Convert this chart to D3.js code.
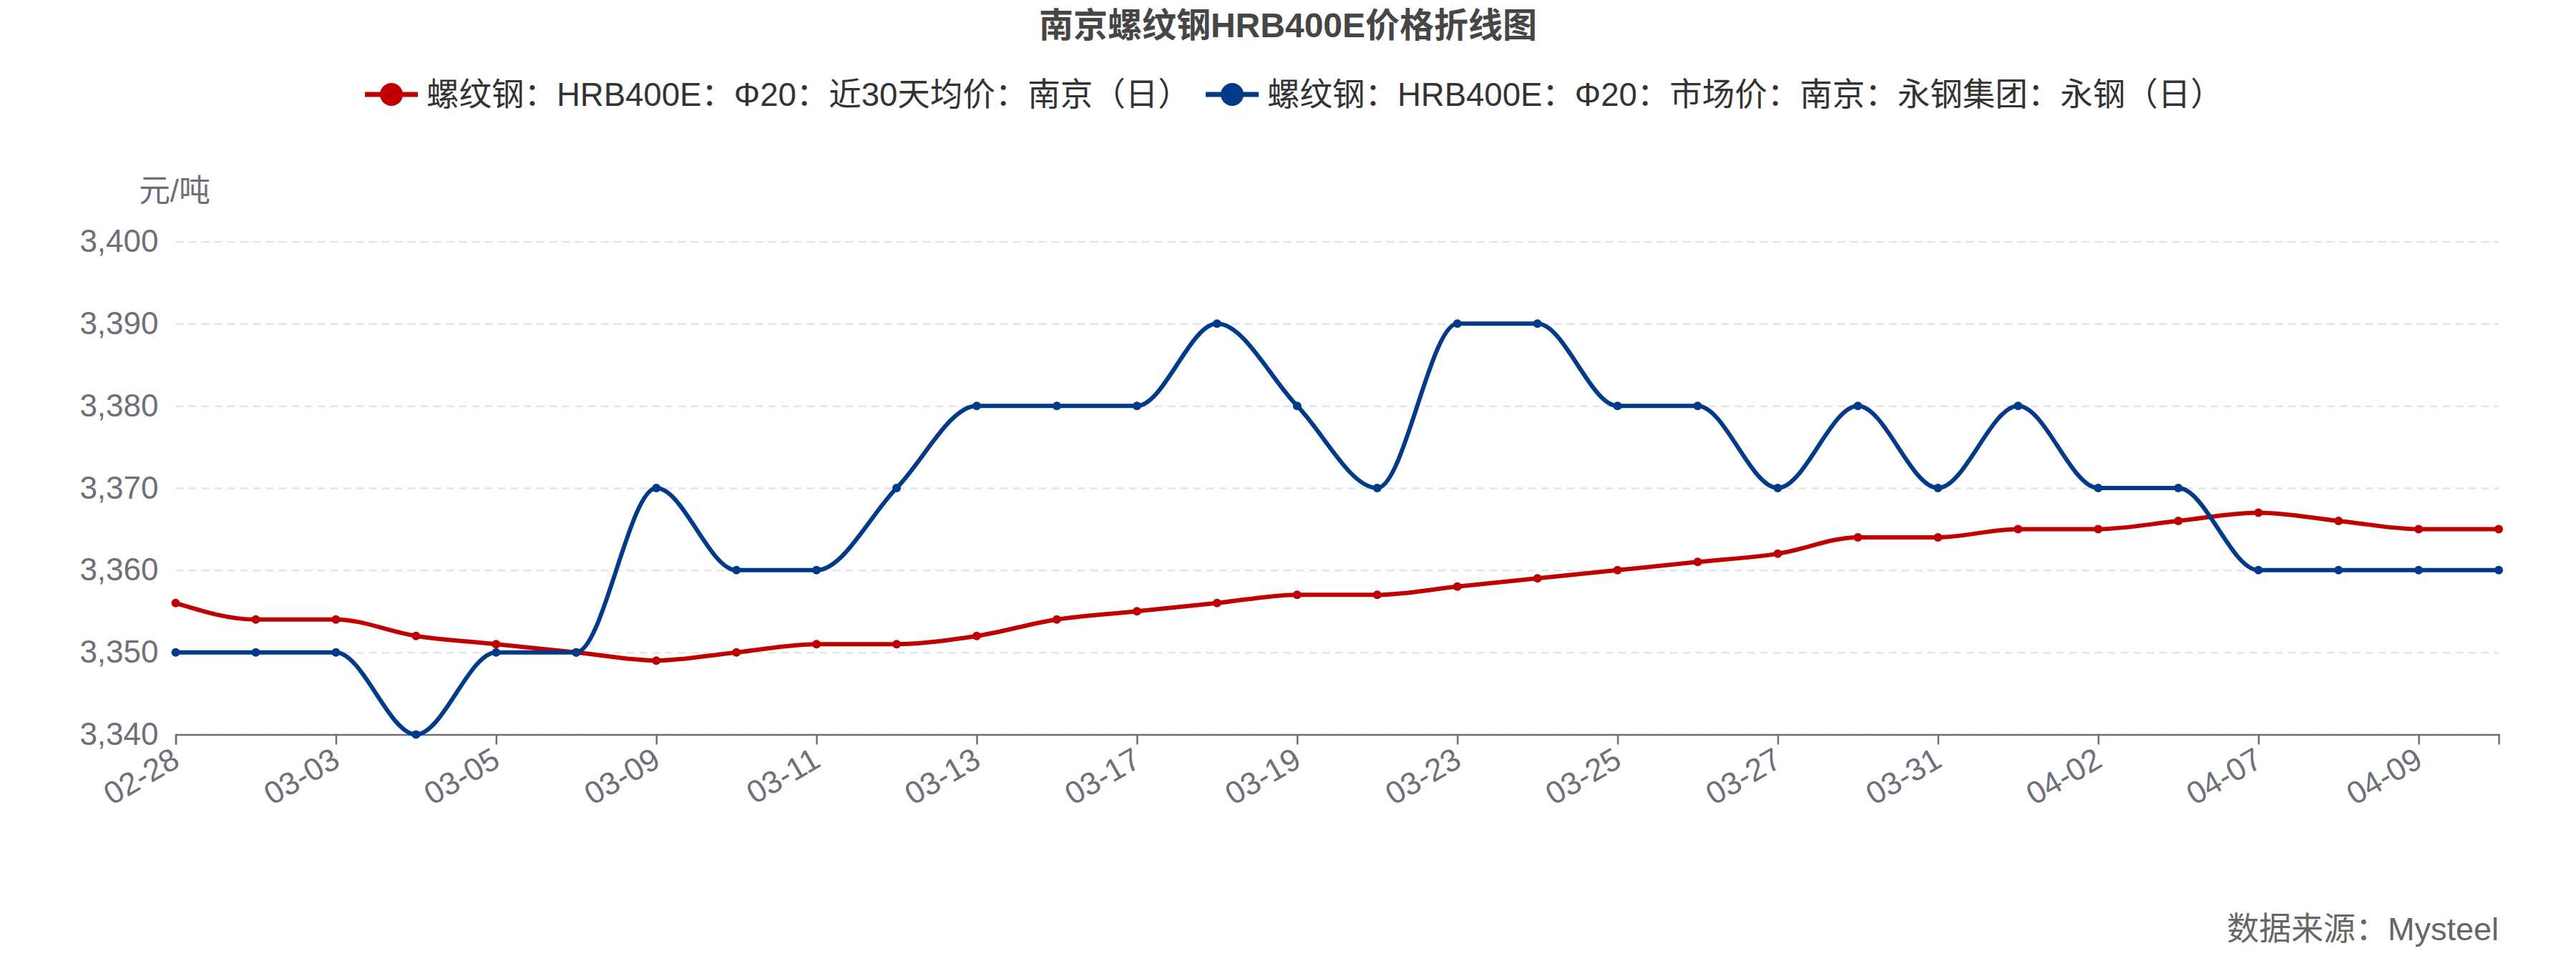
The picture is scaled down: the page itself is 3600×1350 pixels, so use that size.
<head>
  <title>南京螺纹钢HRB400E价格折线图</title>
  <script src="https://d3js.org/d3.v7.min.js"></script>
  <style>
    body { margin: 0; background: #fff; }
    text { font-family: "Liberation Sans", Arial, "Noto Sans CJK SC", sans-serif; }
  </style>
</head>

<body>

<svg id="chart" width="3600" height="1350"></svg>

<script>
    var dates = ["02-28", "03-02", "03-03", "03-04", "03-05", "03-06", "03-09", "03-10", "03-11", "03-12",
        "03-13", "03-16", "03-17", "03-18", "03-19", "03-20", "03-23", "03-24", "03-25", "03-26",
        "03-27", "03-30", "03-31", "04-01", "04-02", "04-03", "04-07", "04-08", "04-09", "04-10"];

    // 近30天均价
    var avg30 = [3356, 3354, 3354, 3352, 3351, 3350, 3349, 3350, 3351, 3351,
        3352, 3354, 3355, 3356, 3357, 3357, 3358, 3359, 3360, 3361,
        3362, 3364, 3364, 3365, 3365, 3366, 3367, 3366, 3365, 3365];

    // 市场价 永钢
    var market = [3350, 3350, 3350, 3340, 3350, 3350, 3370, 3360, 3360, 3370,
        3380, 3380, 3380, 3390, 3380, 3370, 3390, 3390, 3380, 3380,
        3370, 3380, 3370, 3380, 3370, 3370, 3360, 3360, 3360, 3360];

    var seriesNames = ["螺纹钢：HRB400E：Φ20：近30天均价：南京（日）",
        "螺纹钢：HRB400E：Φ20：市场价：南京：永钢集团：永钢（日）"];
    var colors = ["#c00000", "#003a88"];
    var yTicks = [3340, 3350, 3360, 3370, 3380, 3390, 3400];

    var svg = d3.select("#chart"),
        margin = {top: 337.5, right: 108, bottom: 323.5, left: 245.5},
        width = +svg.attr("width"),
        height = +svg.attr("height");

    var x = d3.scalePoint()
        .domain(dates)
        .range([margin.left, width - margin.right]);

    var y = d3.scaleLinear()
        .domain([3340, 3400])
        .range([height - margin.bottom, margin.top]);

    // title
    svg.append("text")
        .attr("x", 1800)
        .attr("y", 52)
        .attr("text-anchor", "middle")
        .attr("font-size", 48)
        .attr("font-weight", "bold")
        .attr("fill", "#464646")
        .text("南京螺纹钢HRB400E价格折线图");

    // y axis + grid
    var yAxis = svg.append("g")
        .attr("class", "y-axis")
        .attr("transform", `translate(${margin.left},0)`)
        .call(d3.axisLeft(y)
            .tickValues(yTicks)
            .tickFormat(d3.format(","))
            .tickSize(-(width - margin.left - margin.right))
            .tickPadding(24));

    yAxis.select(".domain").remove();
    yAxis.selectAll("line")
        .attr("stroke", "#e0e6f1")
        .attr("stroke-width", 2.5)
        .attr("stroke-dasharray", "11,7");
    yAxis.selectAll("text")
        .attr("font-size", 44)
        .attr("fill", "#6e7079");

    svg.append("text")
        .attr("x", 244)
        .attr("y", 282)
        .attr("text-anchor", "middle")
        .attr("font-size", 44)
        .attr("fill", "#6e7079")
        .text("元/吨");

    // x axis
    var xAxis = svg.append("g")
        .attr("class", "x-axis")
        .attr("transform", `translate(0,${height - margin.bottom})`)
        .call(d3.axisBottom(x)
            .tickValues(dates.filter((d, i) => i % 2 === 0))
            .tickSizeOuter(0)
            .tickSize(14));

    xAxis.select(".domain")
        .attr("stroke", "#6e7079")
        .attr("stroke-width", 2.5);
    xAxis.selectAll("line")
        .attr("stroke", "#6e7079")
        .attr("stroke-width", 2.5);
    xAxis.selectAll("text")
        .attr("font-size", 44)
        .attr("fill", "#6e7079")
        .attr("text-anchor", "end")
        .attr("y", 0)
        .attr("dy", "0.35em")
        .attr("transform", "translate(0,30) rotate(-30)");

    var line = d3.line()
        .x((d, i) => x(dates[i]))
        .y(d => y(d))
        .curve(d3.curveMonotoneX);

    [avg30, market].forEach(function (values, k) {
        svg.append("path")
            .datum(values)
            .attr("fill", "none")
            .attr("stroke", colors[k])
            .attr("stroke-width", 6)
            .attr("d", line);

        svg.append("g")
            .selectAll("circle")
            .data(values)
            .join("circle")
            .attr("cx", (d, i) => x(dates[i]))
            .attr("cy", d => y(d))
            .attr("r", 6)
            .attr("fill", colors[k]);
    });

    // legend
    var legendX = [510, 1685];
    var legend = svg.append("g")
        .attr("class", "legend")
        .attr("transform", "translate(0,132)");
    seriesNames.forEach(function (name, k) {
        var item = legend.append("g").attr("transform", `translate(${legendX[k]},0)`);
        item.append("line")
            .attr("x1", 0).attr("x2", 74)
            .attr("y1", 0).attr("y2", 0)
            .attr("stroke", colors[k])
            .attr("stroke-width", 7);
        item.append("circle")
            .attr("cx", 37).attr("cy", 0)
            .attr("r", 16)
            .attr("fill", colors[k]);
        item.append("text")
            .attr("x", 86)
            .attr("dy", "0.35em")
            .attr("font-size", 45.5)
            .attr("fill", "#333")
            .text(name);
    });

    // source
    svg.append("text")
        .attr("x", width - margin.right)
        .attr("y", 1314)
        .attr("text-anchor", "end")
        .attr("font-size", 45)
        .attr("fill", "#666")
        .text("数据来源：Mysteel");

</script>
</body>
